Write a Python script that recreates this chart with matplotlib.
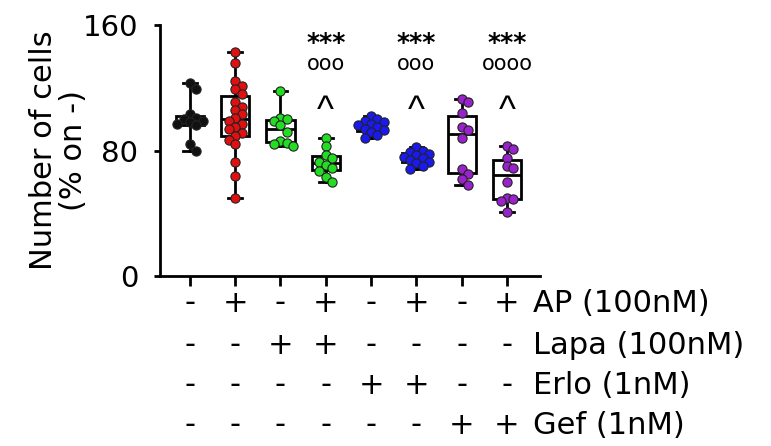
import numpy as np
import matplotlib
matplotlib.use("Agg")
import matplotlib.pyplot as plt
from matplotlib.transforms import blended_transform_factory

plt.rcParams['font.family'] = ['DejaVu Sans']

# ---- data ----
ctrl = [123, 119, 103, 101, 100, 99, 98, 97, 96, 84, 80]
ap = [143, 136, 124, 121, 119, 116, 111, 108, 106, 103, 101, 99, 97, 95, 94, 91, 89, 87, 84, 73, 64, 50]
lapa = [118, 101, 100, 99, 96, 92, 86, 85, 84, 83]
ap_lapa = [88, 83, 77, 75, 73, 71, 69, 67, 63, 60]
erlo = [102, 100, 99, 98, 97, 96, 95, 94, 93, 92, 90, 88]
ap_erlo = [82, 80, 79, 78, 77, 76, 75, 74, 73, 72, 70, 68]
gef = [113, 111, 104, 95, 93, 88, 68, 65, 62, 58]
ap_gef = [83, 81, 75, 70, 69, 60, 50, 49, 48, 41]
groups = [ctrl, ap, lapa, ap_lapa, erlo, ap_erlo, gef, ap_gef]
colors = ['#111111', '#e01010', '#22dd22', '#22dd22', '#1a1aee', '#1a1aee', '#9922cc', '#9922cc']

row_labels = ['AP (100nM)', 'Lapa (100nM)', 'Erlo (1nM)', 'Gef (1nM)']
row_signs = [
    ['-', '+', '-', '+', '-', '+', '-', '+'],
    ['-', '-', '+', '+', '-', '-', '-', '-'],
    ['-', '-', '-', '-', '+', '+', '-', '-'],
    ['-', '-', '-', '-', '-', '-', '+', '+'],
]
sig_groups = [3, 5, 7]
sig_star = ['***', '***', '***']
sig_circ = ['ooo', 'ooo', 'oooo']
sig_caret = ['^', '^', '^']

yticks = [0, 80, 160]

fig = plt.figure(figsize=(7.71, 4.46), dpi=100)
ax = fig.add_axes([0.2075, 0.381, 0.493, 0.563])

pos = np.arange(1, len(groups) + 1)
bp = ax.boxplot(groups, positions=pos, widths=0.62, whis=(0, 100), showfliers=False,
                patch_artist=True, zorder=2,
                boxprops=dict(facecolor='white', edgecolor='black', linewidth=2),
                medianprops=dict(color='black', linewidth=2),
                whiskerprops=dict(color='black', linewidth=2),
                capprops=dict(color='black', linewidth=2))
for cap in bp['caps']:
    xd = cap.get_xdata()
    c = np.mean(xd)
    cap.set_xdata([c - 0.15, c + 0.15])


def swarm(vals, rad=4.2, ppu=1.5688, step=0.14):
    offs = []
    placed = []
    for v in vals:
        y = v * ppu
        o = 0.0
        cands = [0.0]
        for i in range(1, 6):
            cands += [i * step, -i * step]
        for cand in cands:
            ok = True
            for (pv, po) in placed:
                if abs(pv - y) < 2 * rad * 0.8 and abs(po - cand) < step * 0.9:
                    ok = False
                    break
            if ok:
                o = cand
                break
        placed.append((y, o))
        offs.append(o)
    return np.array(offs)


for i, (g, c) in enumerate(zip(groups, colors)):
    offs = swarm(g)
    ax.scatter(pos[i] + offs, g, s=44, color=c, edgecolor='#222222', linewidth=0.8, zorder=3)

for gi, s1, s2, s3 in zip(sig_groups, sig_star, sig_circ, sig_caret):
    x = pos[gi]
    ax.text(x, 144, s1, ha='center', va='baseline', fontsize=18, fontweight='bold')
    ax.text(x, 131.5, s2, ha='center', va='baseline', fontsize=15)
    ax.text(x, 98.5, s3, ha='center', va='baseline', fontsize=26, family='Liberation Sans')

ax.set_xlim(0.34, 8.73)
ax.set_ylim(0, 160)
ax.set_yticks(yticks)
ax.set_yticklabels([str(t) for t in yticks], fontsize=21)
ax.set_xticks(pos)
ax.set_xticklabels([])
ax.tick_params(axis='y', width=2, length=4.5, pad=11, direction='out')
ax.tick_params(axis='x', width=2, length=7.5, direction='out')
ax.spines['top'].set_visible(False)
ax.spines['right'].set_visible(False)
ax.spines['left'].set_linewidth(2)
ax.spines['bottom'].set_linewidth(2)
ax.set_ylabel('Number of cells\n(% on -)', fontsize=22, linespacing=1.05)
ax.yaxis.set_label_coords(-0.19, 0.5)

tr = blended_transform_factory(ax.transData, fig.transFigure)
row_y = [1 - 303 / 446, 1 - 345 / 446, 1 - 385 / 446, 1 - 425 / 446]
for r, (lab, signs) in enumerate(zip(row_labels, row_signs)):
    for i, s in enumerate(signs):
        ax.text(pos[i], row_y[r], s, transform=tr, ha='center', va='center', fontsize=22)
    fig.text(533 / 771, row_y[r], lab, ha='left', va='center', fontsize=22)

fig.savefig('out.png', dpi=100)
